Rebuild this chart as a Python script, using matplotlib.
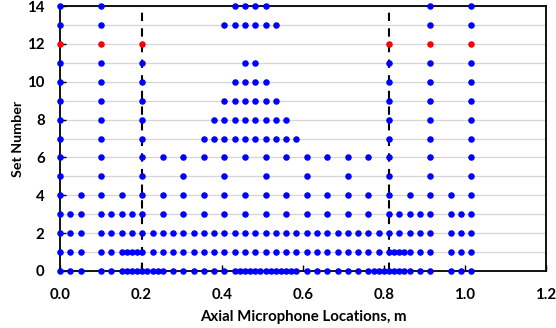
import matplotlib
matplotlib.use("Agg")
import matplotlib.pyplot as plt
from matplotlib.ticker import MultipleLocator, FormatStrFormatter

plt.rcParams['font.family'] = ['Lato', 'DejaVu Sans']
plt.rcParams['font.weight'] = 'bold'

# Microphone positions (inches) for each set number
IN_TO_M = 0.0254
set0_in = [0, 1, 2, 4, 5, 6, 6.5, 7, 7.5, 8, 8.5, 9, 9.5, 10, 11, 12, 13, 14, 15, 16,
           17, 17.5, 18, 18.5, 19, 19.5, 20, 20.5, 21, 21.5, 22, 22.5, 23,
           24, 25, 26, 27, 28, 29, 30, 30.5, 31, 31.5, 32, 32.5, 33, 33.5, 34,
           35, 36, 38, 39, 40]
set1_in = [0, 1, 2, 4, 5, 6, 6.5, 7, 7.5, 8, 9, 10, 11, 12, 13, 14, 15, 16, 17, 18,
           19, 20, 21, 22, 23, 24, 25, 26, 27, 28, 29, 30, 31, 32, 32.5, 33, 33.5,
           34, 35, 36, 38, 39, 40]
set2_in = [0, 1, 2, 4, 5, 6, 7, 8, 9, 10, 11, 12, 13, 14, 15, 16, 17, 18, 19, 20,
           21, 22, 23, 24, 25, 26, 27, 28, 29, 30, 31, 32, 33, 34, 35, 36, 38, 39, 40]
set3_in = [0, 1, 2, 4, 5, 6, 7, 8, 10, 12, 14, 16, 18, 20, 22, 24, 26, 28, 30, 32,
           33, 34, 35, 36, 38, 39, 40]
set4_in = [0, 2, 4, 6, 8, 10, 12, 14, 16, 18, 20, 22, 24, 26, 28, 30, 32, 34, 36, 38, 40]
set5_in = [0, 4, 8, 12, 16, 20, 24, 28, 32, 36, 40]
set6_in = [0, 4, 8, 10, 12, 14, 16, 18, 20, 22, 24, 26, 28, 30, 32, 36, 40]
set7_in = [0, 4, 8, 14, 15, 16, 17, 18, 19, 20, 21, 22, 23, 32, 36, 40]
set8_in = [0, 4, 8, 15, 16, 17, 18, 19, 20, 21, 22, 32, 36, 40]
set9_in = [0, 4, 8, 16, 17, 18, 19, 20, 21, 32, 36, 40]
set10_in = [0, 4, 8, 17, 18, 19, 20, 32, 36, 40]
set11_in = [0, 4, 8, 18, 19, 32, 36, 40]
set12_in = [0, 4, 8, 32, 36, 40]          # highlighted set (red)
set13_in = [0, 4, 16, 17, 18, 19, 20, 21, 36, 40]
set14_in = [0, 4, 17, 18, 19, 20, 36, 40]

blue_sets = {0: set0_in, 1: set1_in, 2: set2_in, 3: set3_in, 4: set4_in,
             5: set5_in, 6: set6_in, 7: set7_in, 8: set8_in, 9: set9_in,
             10: set10_in, 11: set11_in, 13: set13_in, 14: set14_in}
red_sets = {12: set12_in}

dashed_lines_in = [8, 32]
x_ticks = [0.0, 0.2, 0.4, 0.6, 0.8, 1.0, 1.2]
y_ticks = [0, 2, 4, 6, 8, 10, 12, 14]

fig = plt.figure(figsize=(5.56, 3.28), dpi=100)
ax = fig.add_axes([60 / 556, 57 / 328, 485.7 / 556, 265 / 328])

ax.set_xlim(0, 1.2)
ax.set_ylim(0, 14)
ax.set_xticks(x_ticks)
ax.set_yticks(y_ticks)
ax.xaxis.set_major_formatter(FormatStrFormatter('%.1f'))
ax.yaxis.set_minor_locator(MultipleLocator(1))
ax.grid(axis='y', which='both', color='#d6d6d6', linewidth=0.9, zorder=0)
ax.set_axisbelow(True)

for xin in dashed_lines_in:
    ax.plot([xin * IN_TO_M, xin * IN_TO_M], [0, 14], color='black', lw=1.5,
            dashes=[4, 3.5], zorder=2, clip_on=False)

for s, pos in blue_sets.items():
    xs = [p * IN_TO_M for p in pos]
    ax.plot(xs, [s] * len(xs), 'o', color='#0000ff', markersize=4.7,
            markeredgewidth=0, zorder=4, clip_on=False)
for s, pos in red_sets.items():
    xs = [p * IN_TO_M for p in pos]
    ax.plot(xs, [s] * len(xs), 'o', color='#ff0000', markersize=4.7,
            markeredgewidth=0, zorder=4, clip_on=False)

for sp in ax.spines.values():
    sp.set_color('black')
    sp.set_linewidth(1.3)

ax.tick_params(axis='both', which='major', direction='in', length=4, width=1,
               labelsize=10.8, colors='black')
ax.tick_params(axis='y', which='minor', length=0)
ax.tick_params(axis='x', pad=12)
ax.tick_params(axis='y', pad=11)

ax.set_xlabel('Axial Microphone Locations, m', fontsize=10.8, fontweight='bold', labelpad=6)
ax.set_ylabel('Set Number', fontsize=10.3, fontweight='bold', labelpad=2)

fig.savefig('out.png', dpi=100)
